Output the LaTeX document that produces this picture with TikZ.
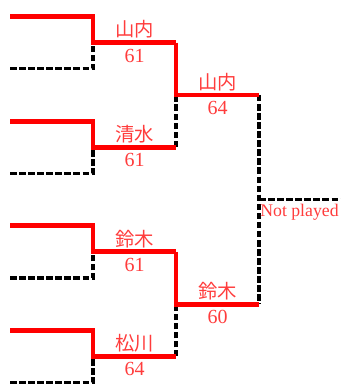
\documentclass[tikz,border=0pt]{standalone}
\usepackage{fontspec}
\usetikzlibrary{calc}
\setmainfont{Liberation Serif}
\newfontfamily\cjk{Noto Sans CJK JP}
\definecolor{linered}{RGB}{255,0,0}
\definecolor{textred}{RGB}{255,60,60}
\begin{document}
\begin{tikzpicture}[x=0.75pt,y=-0.75pt,
  win/.style={draw=linered, line width=3.6pt, line cap=butt, line join=miter},
  lose/.style={draw=black, line width=2.4pt, dash pattern=on 4.9pt off 1.9pt},
  txt/.style={text=textred, inner sep=0pt},
  pname/.style={txt, font=\cjk\fontsize{14.5pt}{14.5pt}\selectfont, anchor=south},
  pscore/.style={txt, font=\fontsize{15pt}{15pt}\selectfont, anchor=north},
  pnote/.style={txt, font=\fontsize{13.3pt}{13.3pt}\selectfont, anchor=north west}]
\useasboundingbox (0,0) rectangle (341,385);
% columns
\def\xa{10}\def\xb{93}\def\xc{176}\def\xd{259}\def\xe{341}
% round 1 entries
\coordinate (e1) at (\xa,16.5);  \coordinate (f1) at (\xb,16.5);
\coordinate (e2) at (\xa,68.8);  \coordinate (f2) at (\xb,68.8);
\coordinate (e3) at (\xa,121.1); \coordinate (f3) at (\xb,121.1);
\coordinate (e4) at (\xa,173.4); \coordinate (f4) at (\xb,173.4);
\coordinate (e5) at (\xa,225.7); \coordinate (f5) at (\xb,225.7);
\coordinate (e6) at (\xa,278.0); \coordinate (f6) at (\xb,278.0);
\coordinate (e7) at (\xa,330.3); \coordinate (f7) at (\xb,330.3);
\coordinate (e8) at (\xa,382.6); \coordinate (f8) at (\xb,382.6);
% round 1 results
\coordinate (m1) at (\xb,42.65);  \coordinate (n1) at (\xc,42.65);
\coordinate (m2) at (\xb,147.25); \coordinate (n2) at (\xc,147.25);
\coordinate (m3) at (\xb,251.85); \coordinate (n3) at (\xc,251.85);
\coordinate (m4) at (\xb,356.45); \coordinate (n4) at (\xc,356.45);
% round 2 results
\coordinate (p1) at (\xc,94.95);  \coordinate (q1) at (\xd,94.95);
\coordinate (p2) at (\xc,304.15); \coordinate (q2) at (\xd,304.15);
% final
\coordinate (r) at (\xd,199.55); \coordinate (s) at (\xe,199.55);

% losers (dashed)
\draw[lose] (e2) -- (f2) -- (m1);
\draw[lose] (e4) -- (f4) -- (m2);
\draw[lose] (e6) -- (f6) -- (m3);
\draw[lose] (e8) -- (f8) -- (m4);
\draw[lose] (n2) -- (p1);
\draw[lose] (n4) -- (p2);
\draw[lose] (q1) -- (q2);
\draw[lose] (r) -- (s);
% winners (red)
\draw[win] (e1) -- (f1) -- (m1) -- (n1);
\draw[win] (e3) -- (f3) -- (m2) -- (n2);
\draw[win] (e5) -- (f5) -- (m3) -- (n3);
\draw[win] (e7) -- (f7) -- (m4) -- (n4);
\draw[win] (n1) -- (p1) -- (q1);
\draw[win] (n3) -- (p2) -- (q2);

% labels
\node[pname]  (w1) at ([yshift=3pt]$(m1)!0.5!(n1)$) {山内};
\node[pscore] (s1) at ([yshift=-4.5pt]$(m1)!0.5!(n1)$) {61};
\node[pname]  (w2) at ([yshift=3pt]$(m2)!0.5!(n2)$) {清水};
\node[pscore] (s2) at ([yshift=-4.5pt]$(m2)!0.5!(n2)$) {61};
\node[pname]  (w3) at ([yshift=3pt]$(m3)!0.5!(n3)$) {鈴木};
\node[pscore] (s3) at ([yshift=-4.5pt]$(m3)!0.5!(n3)$) {61};
\node[pname]  (w4) at ([yshift=3pt]$(m4)!0.5!(n4)$) {松川};
\node[pscore] (s4) at ([yshift=-4.5pt]$(m4)!0.5!(n4)$) {64};
\node[pname]  (w5) at ([yshift=3pt]$(p1)!0.5!(q1)$) {山内};
\node[pscore] (s5) at ([yshift=-4.5pt]$(p1)!0.5!(q1)$) {64};
\node[pname]  (w6) at ([yshift=3pt]$(p2)!0.5!(q2)$) {鈴木};
\node[pscore] (s6) at ([yshift=-4.5pt]$(p2)!0.5!(q2)$) {60};
\node[pnote]  (np) at ([xshift=0.8pt,yshift=-3.5pt]r) {Not played};
\end{tikzpicture}
\end{document}
